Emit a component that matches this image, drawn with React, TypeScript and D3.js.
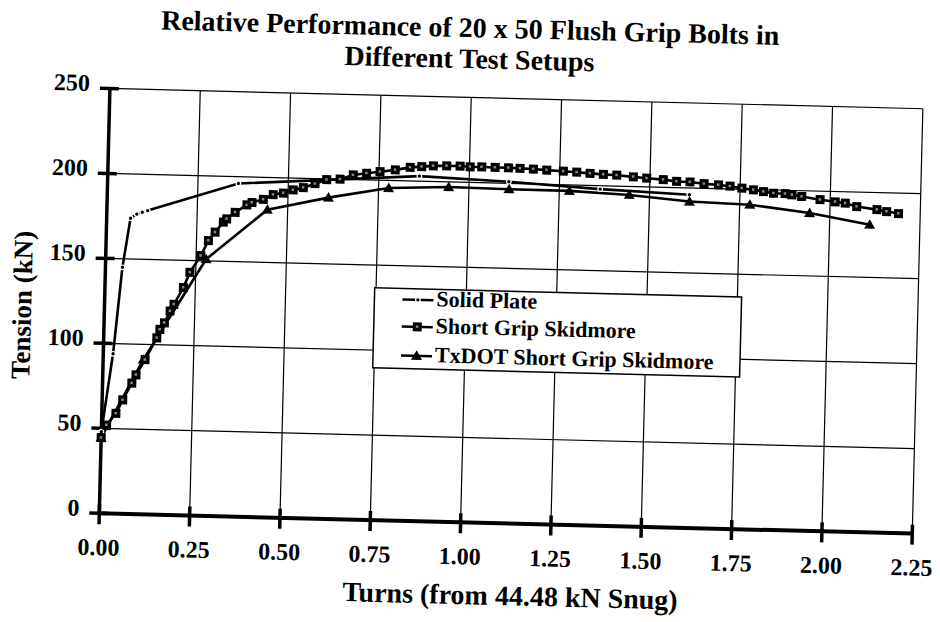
import React from "react";
import * as d3 from "d3";

const titleLines = ["Relative Performance of 20 x 50 Flush Grip Bolts in", "Different Test Setups"];
const xTitle = "Turns (from 44.48 kN Snug)";
const yTitle = "Tension (kN)";
const xTicks = [0, 0.25, 0.5, 0.75, 1.0, 1.25, 1.5, 1.75, 2.0, 2.25];
const yTicks = [0, 50, 100, 150, 200, 250];
const seriesNames = ["Solid Plate", "Short Grip Skidmore", "TxDOT Short Grip Skidmore"];

const solidPlate: [number, number][] = [
  [0, 48], [0.027, 94], [0.047, 145], [0.066, 174], [0.083, 176.5], [0.098, 177.7], [0.113, 178.7],
  [0.362, 196], [0.862, 203], [1.11, 201], [1.363, 198], [1.61, 196],
];

const shortGrip: [number, number][] = [
  [0, 44.5], [0.014, 52], [0.039, 59], [0.057, 67], [0.081, 77], [0.092, 82], [0.116, 91],
  [0.147, 104], [0.155, 109], [0.167, 113], [0.182, 120], [0.192, 124], [0.217, 134], [0.234, 143],
  [0.263, 153], [0.283, 162], [0.301, 167], [0.323, 173], [0.332, 175], [0.355, 179], [0.387, 183.5],
  [0.401, 185], [0.432, 187], [0.459, 190], [0.487, 191], [0.514, 193], [0.542, 194.5], [0.574, 197],
  [0.606, 199.5], [0.643, 200], [0.679, 202.7], [0.716, 203.9], [0.753, 205], [0.795, 206.3],
  [0.836, 208], [0.868, 208.6], [0.9, 209.2], [0.937, 209.4], [0.974, 209.5], [1.002, 209.2],
  [1.034, 209.3], [1.071, 209.2], [1.108, 209.2], [1.14, 209], [1.177, 208.8], [1.214, 208.4],
  [1.26, 208], [1.297, 207.6], [1.334, 207.1], [1.371, 206.7], [1.408, 206.4], [1.454, 205.7],
  [1.491, 205.1], [1.537, 204.5], [1.574, 203.6], [1.611, 203.5], [1.65, 202.7], [1.69, 202.2],
  [1.722, 201.6], [1.755, 200.6], [1.787, 199.8], [1.815, 198.9], [1.843, 198.1], [1.875, 198],
  [1.894, 197.4], [1.921, 196.6], [1.972, 195], [2.014, 194], [2.042, 193.3], [2.074, 191.5],
  [2.13, 190], [2.157, 189], [2.19, 188],
];

const txdot: [number, number][] = [
  [0, 44.5], [0.111, 91], [0.278, 151], [0.444, 181], [0.612, 189], [0.778, 195.5], [0.944, 197],
  [1.111, 196.6], [1.278, 196.5], [1.444, 195], [1.611, 192], [1.778, 191], [1.944, 187], [2.111, 181],
];

const X0 = 99.3;
const Y0 = 513.3;
const x = d3.scaleLinear().domain([0, 2.25]).range([X0, 912.5]);
const y = d3.scaleLinear().domain([0, 250]).range([Y0, 88.3]);
const line = d3.line<[number, number]>().x((d) => x(d[0])).y((d) => y(d[1]));

function Square({ cx, cy }: { cx: number; cy: number }) {
  return (
    <g>
      <rect x={cx - 4.5} y={cy - 4.5} width={9} height={9} fill="#000" />
      <rect x={cx - 1.5} y={cy - 1.5} width={2.5} height={2.5} fill="#888" />
    </g>
  );
}
function Tri({ cx, cy }: { cx: number; cy: number }) {
  return <path d={`M${cx},${cy - 5.5}L${cx + 5.5},${cy + 4}L${cx - 5.5},${cy + 4}Z`} fill="#000" />;
}
function Dot({ cx, cy }: { cx: number; cy: number }) {
  return <circle cx={cx} cy={cy} r={2.3} fill="#000" stroke="#fff" strokeWidth={1.2} />;
}

export default function App() {
  const lg = { x: 369, y: 281, w: 367, h: 80 };
  const rows = [17, 44, 73];
  const markers = [Dot, Square, Tri];
  return (
    <svg
      width={940}
      height={622}
      style={{ position: "absolute", left: 0, top: 0, background: "#fff" }}
      fontFamily="'Liberation Serif','Times New Roman',serif"
      fontWeight="bold"
    >
      <rect width={940} height={622} fill="#fff" />
      <g transform={`rotate(1.43 ${X0} ${Y0})`}>
        {titleLines.map((t, i) => (
          <text key={t} x={458} y={28 + i * 31} textAnchor="middle" fontSize={28}>
            {t}
          </text>
        ))}
        {/* grid */}
        {xTicks.slice(1).map((t) => (
          <line key={"gx" + t} x1={x(t)} x2={x(t)} y1={y(0)} y2={y(250)} stroke="#000" strokeWidth={1.2} />
        ))}
        {yTicks.slice(1).map((t) => (
          <line key={"gy" + t} x1={x(0)} x2={x(2.25)} y1={y(t)} y2={y(t)} stroke="#000" strokeWidth={1.2} />
        ))}
        {/* axes */}
        <line x1={X0} x2={X0} y1={y(250)} y2={Y0} stroke="#000" strokeWidth={3.5} />
        <line x1={X0} x2={x(2.25)} y1={Y0} y2={Y0} stroke="#000" strokeWidth={4} />
        {xTicks.map((t) => (
          <g key={"tx" + t}>
            <line x1={x(t)} x2={x(t)} y1={Y0 - 9} y2={Y0 + 11} stroke="#000" strokeWidth={3.5} />
            <text x={x(t)} y={Y0 + 42} textAnchor="middle" fontSize={24}>
              {t.toFixed(2)}
            </text>
          </g>
        ))}
        {yTicks.map((t) => (
          <g key={"ty" + t}>
            <line x1={X0 - 10} x2={X0 + 9} y1={y(t)} y2={y(t)} stroke="#000" strokeWidth={3.5} />
            <text x={X0 - 20} y={y(t) + 3} textAnchor="end" fontSize={24}>
              {t}
            </text>
          </g>
        ))}
        <text x={512} y={595} textAnchor="middle" fontSize={28}>
          {xTitle}
        </text>
        <text transform={`translate(26,307) rotate(-90)`} textAnchor="middle" fontSize={27}>
          {yTitle}
        </text>
        {/* series lines */}
        <path d={line(solidPlate) || ""} fill="none" stroke="#000" strokeWidth={2.6} />
        <path d={line(txdot) || ""} fill="none" stroke="#000" strokeWidth={2.6} />
        <path d={line(shortGrip) || ""} fill="none" stroke="#000" strokeWidth={2.6} />
        {solidPlate.map((d, i) => (
          <Dot key={"s" + i} cx={x(d[0])} cy={y(d[1])} />
        ))}
        {txdot.map((d, i) => (
          <Tri key={"t" + i} cx={x(d[0])} cy={y(d[1])} />
        ))}
        {shortGrip.map((d, i) => (
          <Square key={"q" + i} cx={x(d[0])} cy={y(d[1])} />
        ))}
        {/* legend */}
        <rect x={lg.x} y={lg.y} width={lg.w} height={lg.h} fill="#fff" stroke="#000" strokeWidth={1.5} />
        {seriesNames.map((n, i) => {
          const M = markers[i];
          const by = lg.y + rows[i];
          return (
            <g key={n}>
              <line x1={lg.x + 28} x2={lg.x + 59} y1={by - 6} y2={by - 6} stroke="#000" strokeWidth={2.6} />
              <M cx={lg.x + 43.5} cy={by - 6} />
              <text x={lg.x + 62} y={by} fontSize={22}>
                {n}
              </text>
            </g>
          );
        })}
      </g>
    </svg>
  );
}
